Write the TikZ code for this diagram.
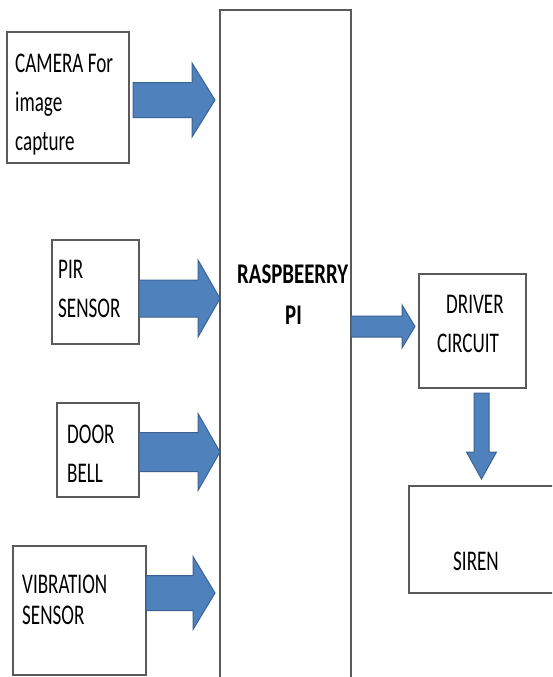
\documentclass[tikz,border=0pt]{standalone}
\usepackage{fontspec}
\newfontfamily\lab[FakeStretch=0.67]{Carlito}
\newfontfamily\blab[FakeStretch=0.73]{Carlito}
\definecolor{arrfill}{HTML}{4F81BD}
\definecolor{arrline}{HTML}{3A6394}
\definecolor{boxline}{HTML}{5A5A5A}
\newcommand\harrow[6]{%
  \filldraw[arr] (#1,#4-#5) -- (#2,#4-#5) -- (#2,#4-#6) -- (#3,#4) -- (#2,#4+#6) -- (#2,#4+#5) -- (#1,#4+#5) -- cycle;}
\newcommand\varrow[6]{%
  \filldraw[arr] (#4-#5,#1) -- (#4-#5,#2) -- (#4-#6,#2) -- (#4,#3) -- (#4+#6,#2) -- (#4+#5,#2) -- (#4+#5,#1) -- cycle;}
\begin{document}
\begin{tikzpicture}[x=1pt,y=-1pt,
  box/.style={draw=boxline,line width=1.4pt,fill=white,inner sep=0pt},
  arr/.style={fill=arrfill,draw=arrline,line width=1pt,line join=miter},
  txt/.style={anchor=base west,inner sep=0pt,font=\lab\fontsize{28.5}{30}\selectfont},
  btxt/.style={txt,font=\blab\bfseries\fontsize{28.5}{30}\selectfont}]
\clip (0,0) rectangle (552,677);
\fill[white] (0,0) rectangle (552,677);
% boxes
\node[box,minimum width=122pt,minimum height=131pt] (cam) at (68,97.5) {};
\node[box,minimum width=87pt,minimum height=104pt] (pir) at (95.5,292) {};
\node[box,minimum width=82pt,minimum height=94pt] (door) at (98,450) {};
\node[box,minimum width=133pt,minimum height=129pt] (vib) at (79.5,610.5) {};
\node[box,minimum width=131pt,minimum height=700pt] (rasp) at (285.5,360) {};
\node[box,minimum width=107pt,minimum height=114pt] (drv) at (472.5,331) {};
\node[box,minimum width=200pt,minimum height=107pt] (siren) at (509,539.5) {};
% arrows
\harrow{133}{192}{215}{100}{17.5}{37}
\harrow{139}{198}{220}{298.5}{18.5}{38.5}
\harrow{139}{198}{220}{452}{19.5}{38.5}
\harrow{146}{193}{215}{593}{17.5}{36.5}
\harrow{351}{402}{415}{326.5}{10.5}{21.5}
\varrow{393}{452}{479}{481.5}{7.5}{15}
% texts
\node[txt] (cam1) at (15,72) {CAMERA For};
\node[txt] (cam2) at (15,111) {image};
\node[txt] (cam3) at (15,150) {capture};
\node[txt] (pir1) at (58,278) {PIR};
\node[txt] (pir2) at (58,317) {SENSOR};
\node[txt] (door1) at (67,443) {DOOR};
\node[txt] (door2) at (67,482) {BELL};
\node[txt] (vib1) at (22,593) {VIBRATION};
\node[txt] (vib2) at (22,624) {SENSOR};
\node[btxt] (r1) at (237,283) {RASPBEERRY};
\node[btxt] (r2) at (285,324) {PI};
\node[txt] (d1) at (446,313) {DRIVER};
\node[txt] (d2) at (437,352) {CIRCUIT};
\node[txt] (s1) at (453,570) {SIREN};
\end{tikzpicture}
\end{document}
